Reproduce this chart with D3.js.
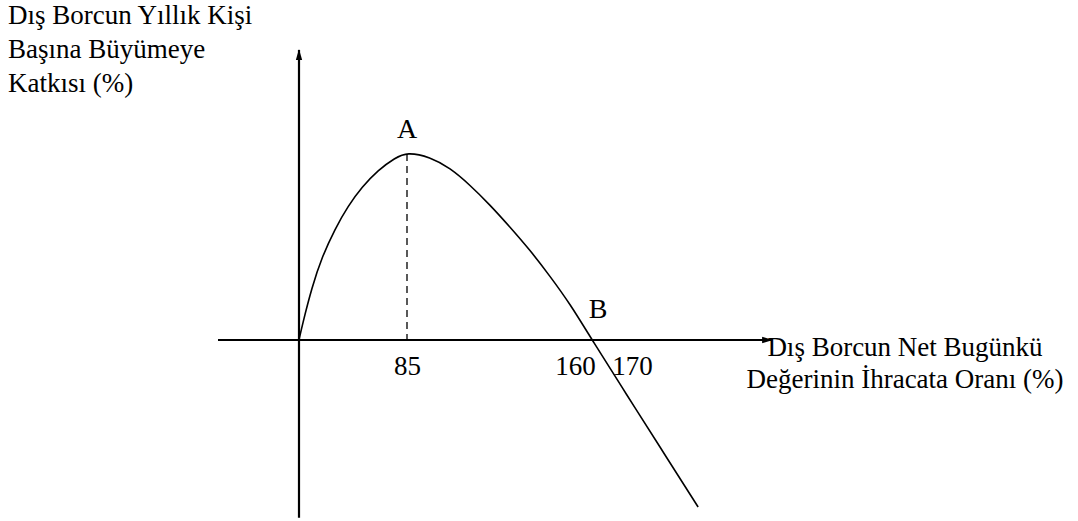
<!DOCTYPE html>
<html>
<head>
<meta charset="utf-8">
<script src="https://cdn.jsdelivr.net/npm/d3@7"></script>
<style>
  body { margin: 0; background: #fff; }
  text { font-family: "Liberation Serif", "DejaVu Serif", serif; fill: #000; }
</style>
</head>
<body>
<script>
// curve (x: NPV of debt / exports %, y: growth contribution, unitless)
let curveX = [0, 2.4, 10.2, 18.1, 28.3, 38.6, 49.6, 62.2, 75.6, 85, 95.3, 104.2, 113.1, 122.1, 131.0, 139.9, 148.8, 157.8, 163.0, 169.1, 174.9, 181.6]
let curveY = [0, 0.75, 2.83, 4.44, 5.94, 7.17, 8.18, 9.09, 9.73, 10.05, 9.79, 9.2, 8.29, 7.22, 6.04, 4.81, 3.42, 1.93, 0, -2.94, -5.72, -8.93]
let tickValues = [85, 160, 170]
let pointNames = ["A", "B"]
let pointX = [85, 163]
let pointY = [10, 0]
let yLabel = ["Dış Borcun Yıllık Kişi", "Başına Büyümeye", "Katkısı (%)"]
let xLabel = ["Dış Borcun Net Bugünkü", "Değerinin İhracata Oranı (%)"]

let w = 1078, h = 521
let svg = d3.select("body").append("svg").attr("width", w).attr("height", h)

// the drawing is not to scale, so the x scale is piecewise
let xScale = d3.scaleLinear().domain([-64, 0, 85, 160, 170]).range([218, 299, 407, 575, 632])
let yScale = d3.scaleLinear().domain([-10, 10]).range([527, 153])

let defs = svg.append("defs")
defs.append("marker")
    .attr("id", "arrow")
    .attr("viewBox", "0 0 12 10")
    .attr("refX", 11).attr("refY", 5)
    .attr("markerWidth", 13).attr("markerHeight", 9)
    .attr("markerUnits", "userSpaceOnUse")
    .attr("orient", "auto")
    .append("path").attr("d", "M0,1.5 L12,5 L0,8.5 Z").attr("fill", "#000")

// x axis
svg.append("line")
    .attr("x1", xScale(-64)).attr("x2", 772)
    .attr("y1", yScale(0)).attr("y2", yScale(0))
    .attr("stroke", "#000").attr("stroke-width", 2.2)
    .attr("marker-end", "url(#arrow)")
// y axis
svg.append("line")
    .attr("x1", xScale(0)).attr("x2", xScale(0))
    .attr("y1", yScale(-9.5)).attr("y2", 50)
    .attr("stroke", "#000").attr("stroke-width", 2.2)
    .attr("marker-end", "url(#arrow)")

let xAxis = d3.axisBottom(xScale).tickValues(tickValues).tickSize(0).tickPadding(16)
let gx = svg.append("g")
    .attr("transform", "translate(0," + yScale(0) + ")")
    .call(xAxis)
gx.select(".domain").remove()
gx.selectAll("text")
    .attr("font-size", 27)
    .attr("font-family", "Liberation Serif")
    .attr("fill", "#000")

// dashed drop line from A
svg.append("line")
    .attr("x1", xScale(85)).attr("x2", xScale(85))
    .attr("y1", yScale(9.95)).attr("y2", yScale(0))
    .attr("stroke", "#000").attr("stroke-width", 1.3)
    .attr("stroke-dasharray", "7,5")

let line = d3.line()
    .x((d, i) => xScale(curveX[i]))
    .y((d, i) => yScale(curveY[i]))
    .curve(d3.curveBasis)
svg.append("path")
    .attr("d", line(curveX))
    .attr("fill", "none")
    .attr("stroke", "#000")
    .attr("stroke-width", 1.6)

svg.selectAll(".pt")
    .data(pointNames)
    .enter()
    .append("text")
    .attr("class", "pt")
    .attr("x", (d, i) => xScale(pointX[i]) + (i == 1 ? 6 : 0))
    .attr("y", (d, i) => yScale(pointY[i]) - (i == 0 ? 15 : 22))
    .attr("text-anchor", "middle")
    .attr("font-size", 28)
    .text(d => d)

svg.selectAll(".yl")
    .data(yLabel)
    .enter()
    .append("text")
    .attr("class", "yl")
    .attr("x", 8)
    .attr("y", (d, i) => 24 + i * 34)
    .attr("font-size", 27)
    .text(d => d)

svg.selectAll(".xl")
    .data(xLabel)
    .enter()
    .append("text")
    .attr("class", "xl")
    .attr("x", 905)
    .attr("y", (d, i) => 356 + i * 32)
    .attr("text-anchor", "middle")
    .attr("font-size", 27)
    .text(d => d)
</script>
</body>
</html>
